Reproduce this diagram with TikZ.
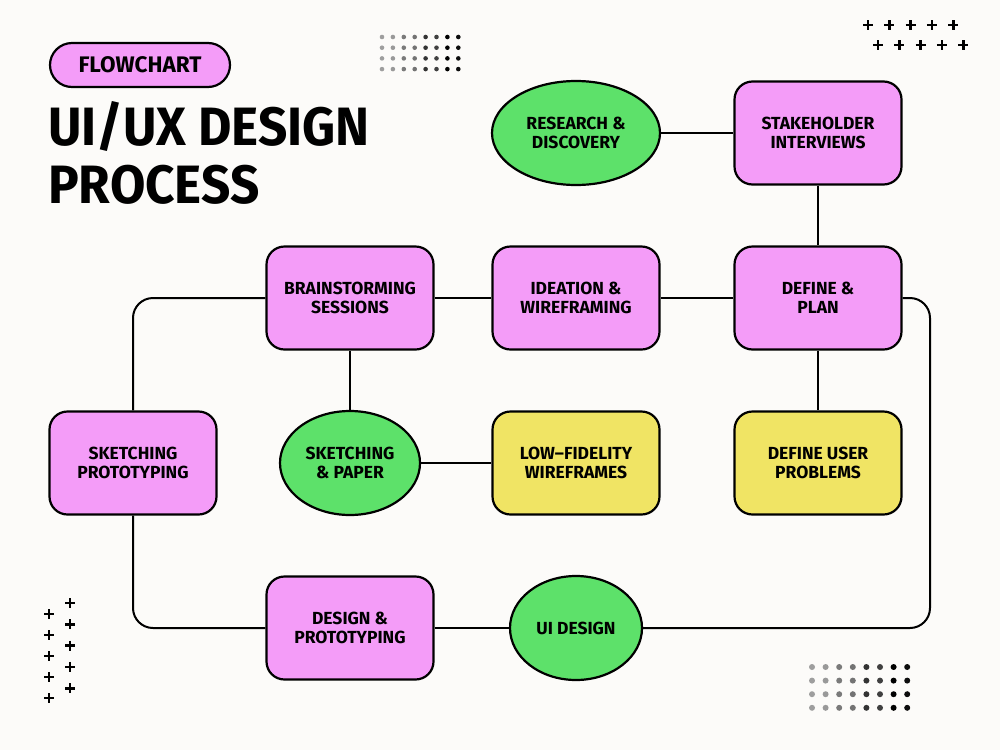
\documentclass[tikz,border=0pt]{standalone}
\usepackage{fontspec}
\setmainfont{Fira Sans}
\newfontfamily\cond[FakeStretch=0.95]{Fira Sans}
\usetikzlibrary{shapes.geometric}
\definecolor{bg}{HTML}{FCFBF9}
\definecolor{pinkc}{HTML}{F49CF8}
\definecolor{greenc}{HTML}{5DE16A}
\definecolor{yellowc}{HTML}{F0E464}
\tikzset{
  box/.style={draw=black, line width=2.2pt, rounded corners=18pt, minimum width=167pt, minimum height=103pt, inner sep=0pt, align=center, font=\bfseries\fontsize{17.5}{18.5}\selectfont},
  pinkbox/.style={box, fill=pinkc},
  yellowbox/.style={box, fill=yellowc},
  oval/.style={draw=black, line width=2.2pt, ellipse, fill=greenc, inner sep=0pt, align=center, font=\bfseries\fontsize{17.5}{18.5}\selectfont},
  conn/.style={draw=black, line width=2pt, rounded corners=20pt},
  plus/.style={line width=2.6pt, black},
  dot/.style={circle, inner sep=0pt, minimum size=5pt}
}
\newcommand{\plusat}[2]{\draw[plus] (#1-5,#2) -- (#1+5,#2) (#1,#2-5) -- (#1,#2+5);}
\begin{document}
\begin{tikzpicture}[x=1pt,y=-1pt]
\fill[bg] (0,0) rectangle (1000,750);
\useasboundingbox (0,0) rectangle (1000,750);

% header
\node[draw=black, line width=2.2pt, fill=pinkc, rounded corners=22pt, minimum width=180pt, minimum height=44pt, inner sep=0pt, font=\bfseries\fontsize{22.5}{24}\selectfont] (tag) at (140,65) {FLOWCHART};
\node[anchor=base west, inner sep=0pt, font=\cond\bfseries\fontsize{54}{58}\selectfont] (t1) at (48,145) {UI/UX DESIGN};
\node[anchor=base west, inner sep=0pt, font=\cond\bfseries\fontsize{54}{58}\selectfont] (t2) at (48,203) {PROCESS};

% decorations: dots
\foreach \c/\col in {0/black!38,1/black!40,2/black!52,3/black!55,4/black!80,5/black!75,6/black,7/black!95} {
  \foreach \r in {0,1,2,3} {
    \fill[\col] (382+\c*10.9, 37+\r*10.7) circle (2.3pt);
    \fill[\col] (812+\c*13.6, 667+\r*13.6) circle (3pt);
  }
}
% plus signs
\foreach \i in {0,...,4} {
  \plusat{868+\i*21.3}{25}
  \plusat{878+\i*21.3}{45}
}
\foreach \i in {0,...,4} {
  \plusat{49}{614+\i*21}
  \plusat{70}{603+\i*21.3}
}
\plusat{49}{698}

% nodes
\node[oval, minimum width=168pt, minimum height=104pt] (research) at (576,133) {RESEARCH \&\\DISCOVERY};
\node[pinkbox] (stake) at (818,133) {STAKEHOLDER\\INTERVIEWS};
\node[pinkbox] (brain) at (350,298) {BRAINSTORMING\\SESSIONS};
\node[pinkbox] (idea) at (576,298) {IDEATION \&\\WIREFRAMING};
\node[pinkbox] (plan) at (818,298) {DEFINE \&\\PLAN};
\node[pinkbox] (sketch) at (133,463) {SKETCHING\\PROTOTYPING};
\node[oval, minimum width=140pt, minimum height=104pt] (paper) at (350,463) {SKETCHING\\\& PAPER};
\node[yellowbox] (lowfi) at (576,463) {LOW–FIDELITY\\WIREFRAMES};
\node[yellowbox] (problems) at (818,463) {DEFINE USER\\PROBLEMS};
\node[pinkbox] (design) at (350,628) {DESIGN \&\\PROTOTYPING};
\node[oval, minimum width=132pt, minimum height=104pt] (ui) at (576,628) {UI DESIGN};
\coordinate (rr) at (930,0);

% connectors
\draw[conn] (research.east) -- (stake.west);
\draw[conn] (stake.south) -- (plan.north);
\draw[conn] (plan.west) -- (idea.east);
\draw[conn] (idea.west) -- (brain.east);
\draw[conn] (brain.west) -| (sketch.north);
\draw[conn] (brain.south) -- (paper.north);
\draw[conn] (paper.east) -- (lowfi.west);
\draw[conn] (plan.south) -- (problems.north);
\draw[conn] (sketch.south) |- (design.west);
\draw[conn] (design.east) -- (ui.west);
\draw[conn] (ui.east) -- (ui.east -| rr) -- (plan.east -| rr) -- (plan.east);
\end{tikzpicture}
\end{document}
